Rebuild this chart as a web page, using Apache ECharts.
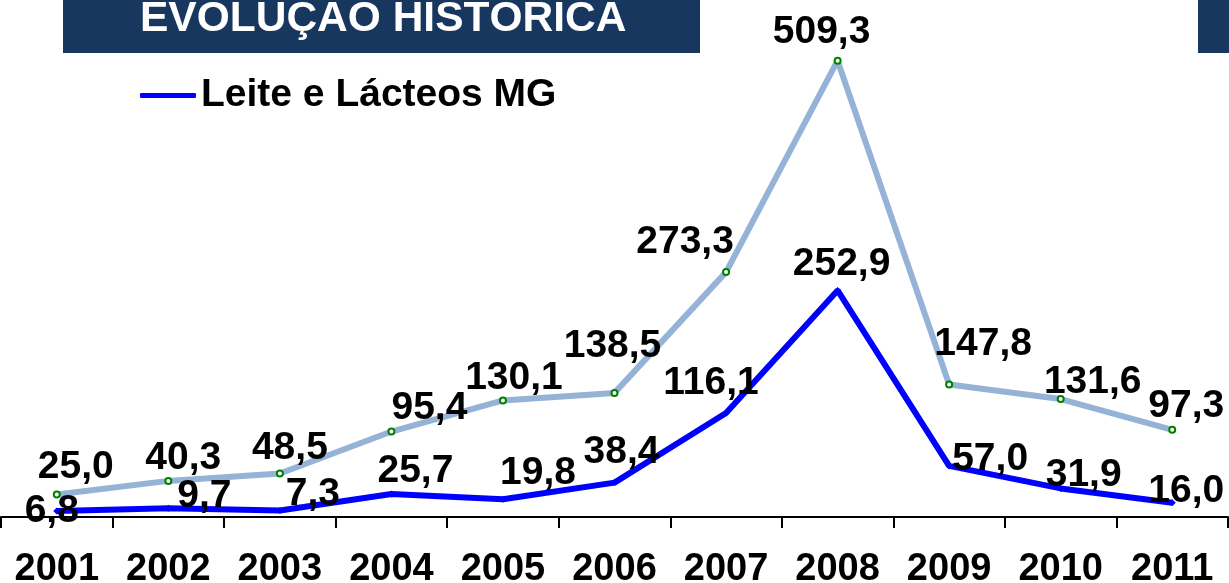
<!DOCTYPE html>
<html>
<head>
<meta charset="utf-8">
<script src="https://cdn.jsdelivr.net/npm/echarts@6/dist/echarts.min.js"></script>
<style>
  html, body { margin: 0; padding: 0; background: #fff; }
  #chart { width: 1229px; height: 583px; }
</style>
</head>
<body>
<div id="chart"></div>
<script>
const years = ['2001', '2002', '2003', '2004', '2005', '2006', '2007', '2008', '2009', '2010', '2011']
const totalValues = [25.0, 40.3, 48.5, 95.4, 130.1, 138.5, 273.3, 509.3, 147.8, 131.6, 97.3]
const mgValues = [6.8, 9.7, 7.3, 25.7, 19.8, 38.4, 116.1, 252.9, 57.0, 31.9, 16.0]

// label offsets (px) from each point, picked to match the picture
const totalLabelOffsets = [[19, -27], [15, -23], [10, -25], [38, -23], [11, -22], [-2, -47], [-41, -30], [-16, -28], [34, -40], [32, -17], [14, -24]]
const mgLabelOffsets = [[-5, 0], [36, -12], [33, -16], [24, -23], [35, -26], [7, -30], [-15, -30], [4, -26], [41, -7], [23, -13], [14, -11]]

const font = 'Arial, "Liberation Sans", sans-serif'
const fmt = p => p.value.toFixed(1).replace('.', ',')

function withOffsets(values, offsets) {
  return values.map((v, i) => ({ value: v, label: { offset: offsets[i] } }))
}

const chart = echarts.init(document.getElementById('chart'))

chart.setOption({
  animation: false,
  grid: { left: 1, right: 1, top: 0, bottom: 66, outerBoundsMode: 'none' },
  legend: {
    data: ['Leite e Lácteos MG'],
    left: 140,
    top: 76,
    padding: 0,
    icon: 'roundRect',
    itemWidth: 56,
    itemHeight: 5,
    textStyle: { fontFamily: font, fontWeight: 'bold', fontSize: 39, color: '#000', lineHeight: 38 }
  },
  graphic: [
    { type: 'rect', left: 63, top: 0, shape: { width: 637, height: 53 }, style: { fill: '#17375E' }, z: 10 },
    { type: 'rect', left: 1198, top: 0, shape: { width: 31, height: 53 }, style: { fill: '#17375E' }, z: 10 },
    {
      type: 'text', x: 140, y: 19, z: 11,
      style: { text: 'EVOLUÇÃO HISTÓRICA', fill: '#fff', font: 'bold 42.5px ' + font, verticalAlign: 'middle' }
    }
  ],
  xAxis: {
    type: 'category',
    data: years,
    boundaryGap: true,
    axisLine: { lineStyle: { color: '#000', width: 2 } },
    axisTick: { show: true, length: 11, lineStyle: { color: '#000', width: 2 } },
    axisLabel: { margin: 34, color: '#000', fontFamily: font, fontWeight: 'bold', fontSize: 38 }
  },
  yAxis: {
    type: 'value',
    min: 0,
    max: 577,
    show: false,
    splitLine: { show: false }
  },
  series: [{
    name: 'Total',
    type: 'line',
    data: withOffsets(totalValues, totalLabelOffsets),
    symbol: 'emptyCircle',
    symbolSize: 6,
    lineStyle: { color: '#95B3D7', width: 6 },
    itemStyle: { color: '#008000', borderWidth: 1.5 },
    label: { show: true, position: 'inside', formatter: fmt, color: '#000', fontFamily: font, fontWeight: 'bold', fontSize: 39 }
  }, {
    name: 'Leite e Lácteos MG',
    type: 'line',
    data: withOffsets(mgValues, mgLabelOffsets),
    symbol: 'diamond',
    symbolSize: 7,
    lineStyle: { color: '#0000FF', width: 6 },
    itemStyle: { color: '#0000FF' },
    label: { show: true, position: 'inside', formatter: fmt, color: '#000', fontFamily: font, fontWeight: 'bold', fontSize: 39 }
  }]
})
</script>
</body>
</html>
